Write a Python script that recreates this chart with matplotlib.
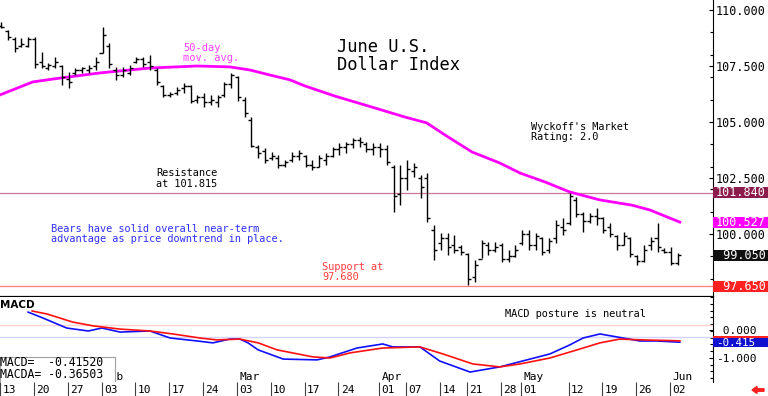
import matplotlib
matplotlib.use("Agg")
import matplotlib.pyplot as plt
from matplotlib.patches import Rectangle, FancyArrow
from matplotlib.ticker import MultipleLocator, FuncFormatter

plt.rcParams['font.family'] = ['DejaVu Sans Mono', 'DejaVu Sans']

W, H = 768, 396

# daily bars, one per trading day (index 0 = Jan 13)
highs = [109.46, 109.11, 108.79, 108.75, 108.79, 108.79, 108.13, 107.63, 107.90, 107.54,
         107.23, 107.41, 107.46, 107.54, 107.90, 109.24, 108.53, 107.46, 107.46, 107.54,
         107.90, 107.90, 107.99, 107.41, 106.65, 106.34, 106.56, 106.74, 106.65, 106.21,
         106.29, 106.21, 106.21, 106.79, 107.19, 107.05, 106.12, 105.22, 103.97, 103.84,
         103.66, 103.53, 103.30, 103.66, 103.75, 103.53, 103.30, 103.53, 103.62, 103.88,
         104.06, 104.11, 104.29, 104.33, 104.11, 104.06, 104.06, 103.97, 103.08, 103.08,
         103.30, 103.17, 102.63, 102.72, 100.40, 100.04, 100.04, 99.96, 99.51, 99.15,
         98.84, 99.73, 99.64, 99.64, 99.60, 99.29, 99.51, 100.18, 100.18, 100.04,
         99.87, 99.82, 100.63, 100.71, 101.83, 101.65, 100.98, 100.94, 101.16, 100.76,
         100.49, 99.96, 100.09, 99.87, 99.06, 99.51, 99.87, 100.49, 99.38, 99.42, 99.15]
lows = [109.20, 108.66, 108.13, 108.35, 108.35, 107.41, 107.41, 107.32, 107.41, 106.65,
        106.52, 107.10, 107.19, 107.19, 107.32, 108.08, 107.41, 106.88, 107.01, 107.10,
        107.63, 107.46, 107.32, 106.65, 106.12, 106.12, 106.21, 106.29, 105.85, 105.85,
        105.67, 105.76, 105.67, 106.12, 106.52, 105.95, 105.22, 103.88, 103.39, 103.17,
        103.30, 102.95, 102.99, 103.21, 103.30, 102.99, 102.86, 102.99, 103.08, 103.44,
        103.53, 103.62, 103.84, 103.88, 103.66, 103.53, 103.44, 103.08, 100.98, 101.29,
        101.96, 102.54, 101.61, 100.54, 98.84, 99.29, 99.06, 99.15, 99.06, 97.72,
        97.86, 98.93, 99.06, 99.20, 98.75, 98.75, 98.97, 99.51, 99.29, 99.29,
        99.06, 99.15, 99.60, 99.96, 100.40, 100.76, 100.09, 100.49, 100.40, 100.04,
        99.87, 99.29, 99.51, 98.97, 98.62, 98.75, 99.29, 99.20, 99.15, 98.62, 98.62]
opens = [109.30, 109.05, 108.70, 108.40, 108.40, 108.70, 107.70, 107.40, 107.50, 107.50,
         106.90, 107.20, 107.30, 107.30, 107.50, 108.10, 108.40, 107.30, 107.10, 107.20,
         107.70, 107.80, 107.70, 107.30, 106.60, 106.20, 106.30, 106.50, 106.60, 106.00,
         106.10, 105.90, 105.90, 106.20, 106.70, 107.00, 106.00, 105.10, 103.90, 103.70,
         103.40, 103.40, 103.10, 103.30, 103.50, 103.50, 103.10, 103.00, 103.30, 103.50,
         103.80, 103.90, 104.00, 104.20, 104.00, 103.80, 103.90, 103.80, 103.00, 101.80,
         102.50, 102.80, 102.50, 102.50, 100.20, 99.60, 99.80, 99.50, 99.40, 99.10,
         98.10, 98.90, 99.50, 99.30, 99.50, 98.90, 99.00, 99.60, 100.00, 99.50,
         99.80, 99.30, 99.80, 100.30, 100.50, 101.50, 100.90, 100.60, 100.80, 100.70,
         100.30, 99.90, 99.50, 99.80, 99.00, 98.80, 99.50, 99.80, 99.30, 99.20, 98.70]
closes = [109.25, 108.80, 108.30, 108.50, 108.70, 107.60, 107.50, 107.55, 107.70, 107.00,
          106.80, 107.30, 107.40, 107.40, 107.70, 108.90, 107.60, 107.10, 107.30, 107.40,
          107.80, 107.60, 107.50, 106.80, 106.20, 106.25, 106.45, 106.60, 105.95, 106.10,
          105.90, 106.00, 106.10, 106.70, 107.10, 106.10, 105.40, 103.95, 103.60, 103.30,
          103.50, 103.10, 103.20, 103.50, 103.60, 103.10, 103.00, 103.40, 103.50, 103.80,
          103.90, 104.00, 104.20, 104.10, 103.80, 103.90, 103.80, 103.20, 101.70, 102.50,
          102.90, 103.00, 102.10, 100.70, 99.30, 99.80, 99.40, 99.30, 99.20, 98.00,
          98.60, 99.60, 99.30, 99.40, 98.90, 99.00, 99.30, 100.00, 99.50, 99.90,
          99.20, 99.70, 100.40, 100.20, 101.70, 100.90, 100.60, 100.80, 100.70, 100.20,
          100.00, 99.50, 99.90, 99.10, 98.80, 99.30, 99.70, 99.40, 99.20, 98.70, 99.05]
days = list(range(len(highs)))

# 50-day moving average at these day positions
ma_x = [-0.15, 4.7, 8.7, 14.6, 22.0, 29.0, 33.8, 36.8, 39.7, 42.7, 44.9, 49.3, 55.2,
        59.7, 62.9, 65.6, 69.6, 73.7, 76.7, 80.4, 84.0, 88.5, 93.2, 95.9, 100.3]
ma_y = [106.21, 106.79, 106.96, 107.19, 107.41, 107.50, 107.46, 107.32, 107.10, 106.88,
        106.61, 106.16, 105.63, 105.22, 104.96, 104.42, 103.66, 103.17, 102.72, 102.32,
        101.88, 101.52, 101.29, 101.07, 100.53]

# MACD (blue) and its average (red)
macd_x = [4.0, 6.2, 9.7, 12.9, 14.9, 17.6, 22.0, 25.0, 29.0, 31.3, 33.8, 35.3, 36.5, 38.0,
          41.7, 46.7, 48.6, 52.6, 56.4, 57.9, 61.9, 64.8, 69.3, 73.7, 77.7, 81.1, 84.0,
          86.0, 88.5, 91.9, 94.4, 96.9, 100.3]
macd_y = [0.70, 0.48, 0.11, 0.0, 0.11, -0.04, 0.0, -0.26, -0.37, -0.44, -0.30, -0.30, -0.44,
          -0.70, -1.04, -1.07, -0.96, -0.63, -0.48, -0.59, -0.59, -1.11, -1.52, -1.33, -1.07,
          -0.85, -0.52, -0.26, -0.11, -0.26, -0.37, -0.37, -0.415]
sig_x = [4.6, 6.8, 10.6, 13.6, 17.6, 22.0, 25.4, 29.4, 31.9, 35.3, 38.0, 40.8, 46.1, 48.6,
         51.6, 56.4, 61.9, 65.3, 69.7, 73.7, 76.7, 81.1, 85.1, 88.5, 91.4, 94.8, 100.3]
sig_y = [0.74, 0.63, 0.33, 0.19, 0.07, 0.0, -0.11, -0.26, -0.33, -0.30, -0.44, -0.70, -0.96,
         -1.0, -0.81, -0.63, -0.59, -0.85, -1.22, -1.33, -1.22, -1.0, -0.70, -0.44, -0.30,
         -0.33, -0.365]

tick_idx = [0, 5, 10, 15, 20, 25, 30, 35, 40, 45, 50, 56, 60, 65, 69, 74, 77, 84, 89, 94, 99]
tick_lab = ['13', '20', '27', '03', '10', '17', '24', '03', '10', '17', '24',
            '01', '07', '14', '21', '28', '01', '12', '19', '26', '02']
months = ['Feb', 'Mar', 'Apr', 'May', 'Jun']
month_idx = [15, 35, 56, 77, 99]

resistance = 101.84
support = 97.68

fig = plt.figure(figsize=(W / 100, H / 100), dpi=100)
ax = fig.add_axes([0, 1 - 297 / H, 713 / W, 297 / H])
ax2 = fig.add_axes([0, 1 - 382 / H, 713 / W, 85 / H])
ax3 = fig.add_axes([0, 0, 713 / W, 14 / H])

for a in (ax, ax2, ax3):
    a.set_xlim(-0.15, 105.2)
    a.set_xticks([])
    for s in ('left', 'top'):
        a.spines[s].set_visible(False)
ax3.axis('off')
ax2.spines['bottom'].set_visible(False)
ax.spines['bottom'].set_linewidth(1.6)

# ---- price panel
ax.set_ylim(97.188, 110.446)
ax.axhline(resistance, color='#c87898', lw=0.9)
ax.axhline(support, color='#ff7c7c', lw=0.9)
ax.plot(ma_x, ma_y, color='#ff00ff', lw=2.0, zorder=3)
ax.vlines(days, lows, highs, color='k', lw=1.0, zorder=4)
ax.hlines(opens, [d - 0.45 for d in days], days, color='k', lw=1.0, zorder=4)
ax.hlines(closes, days, [d + 0.45 for d in days], color='k', lw=1.0, zorder=4)

ax.yaxis.tick_right()
ax.set_yticks([100, 102.5, 105, 107.5, 110])
ax.yaxis.set_minor_locator(MultipleLocator(1.0))
ax.yaxis.set_major_formatter(FuncFormatter(lambda v, p: f"{v:7.3f}"))
ax.tick_params(axis='y', which='both', direction='in', length=3, width=0.8,
               labelsize=8.5, pad=2)
ax.tick_params(axis='y', which='minor', length=2)

# ---- MACD panel
ax2.set_ylim(-1.889, 1.259)
ax2.axhline(0.22, color='#ffd4d4', lw=1.0)
ax2.axhline(-0.22, color='#d4d4ff', lw=1.0)
ax2.plot(macd_x, macd_y, color='#1010ff', lw=1.2)
ax2.plot(sig_x, sig_y, color='#ff1010', lw=1.2)
ax2.yaxis.tick_right()
ax2.set_yticks([0.03, -1])
ax2.yaxis.set_minor_locator(MultipleLocator(0.25))
ax2.yaxis.set_major_formatter(FuncFormatter(lambda v, p: f"{round(v):6.3f}"))
ax2.tick_params(axis='y', which='both', direction='in', length=3, width=0.8,
                labelsize=8, pad=2)
ax2.tick_params(axis='y', which='minor', length=2)

for m, i in zip(months, month_idx):
    ax2.text(i + 0.2, -1.70, m, fontsize=8, va='center', ha='left')
ax2.add_patch(Rectangle((-0.15, -0.963), 17.0, -1.0, facecolor='white',
                        edgecolor='#a0a0a0', lw=0.8, zorder=5))

# ---- date row
ax3.set_ylim(0, 1)
ax3.vlines([i - 0.15 for i in tick_idx], 0, 1, color='#404040', lw=0.8)
for lab, i in zip(tick_lab, tick_idx):
    ax3.text(i + 0.2, 0.42, lab, fontsize=8, va='center', ha='left')


# ---- value boxes on the right
def value_box(a, val, label, fc, h, size=8.5):
    a.add_patch(Rectangle((1.0, val - h / 2), (W - 713) / 713, h, facecolor=fc,
                          edgecolor='none', transform=a.get_yaxis_transform(),
                          clip_on=False, zorder=6))
    if label:
        a.text(1 + 3 / 713, val, label, color='white', fontsize=size, va='center',
               ha='left', transform=a.get_yaxis_transform(), zorder=7)


value_box(ax, 101.840, '101.840', '#8c1c4c', 0.5)
value_box(ax, 100.527, '100.527', '#ff00ff', 0.5)
value_box(ax, 99.050, ' 99.050', '#101010', 0.5)
value_box(ax, 97.650, ' 97.650', '#ff2020', 0.5)
value_box(ax2, -0.39, '', '#ff2020', 0.40)
value_box(ax2, -0.43, '-0.415', '#1010d0', 0.36, size=7.8)


def ftext(px, py, s, **kw):
    fig.text(px / W, 1 - py / H, s, va='center', ha='left', **kw)


ftext(183, 48, '50-day', color='#ff40ff', fontsize=7.5)
ftext(183, 58, 'mov. avg.', color='#ff40ff', fontsize=7.5)
ftext(337, 47, 'June U.S.', fontsize=12.3)
ftext(337, 65, 'Dollar Index', fontsize=12.3)
ftext(531, 127, "Wyckoff's Market", fontsize=7.4)
ftext(531, 137, 'Rating: 2.0', fontsize=7.4)
ftext(156, 173, 'Resistance', fontsize=7.4)
ftext(156, 184, 'at 101.815', fontsize=7.4)
ftext(51, 229, 'Bears have solid overall near-term', color='#3030ff', fontsize=7.4)
ftext(51, 239, 'advantage as price downtrend in place.', color='#3030ff', fontsize=7.4)
ftext(322, 267, 'Support at', color='#ff3c3c', fontsize=7.4)
ftext(322, 277, '97.680', color='#ff3c3c', fontsize=7.4)
ftext(505, 314, 'MACD posture is neutral', fontsize=7.4)
ftext(0, 305, 'MACD', fontsize=7.5, fontweight='bold', family='DejaVu Sans')
ftext(0, 362, 'MACD=  -0.41520', fontsize=8.3, zorder=10)
ftext(0, 375, 'MACDA= -0.36503', fontsize=8.3, zorder=10)

fig.add_artist(FancyArrow(7.64, 0.06, -0.07, 0, width=0.025, head_width=0.07,
                          head_length=0.05, color='#ff2020',
                          transform=fig.dpi_scale_trans))

fig.savefig('out.png', dpi=100, facecolor='white')
